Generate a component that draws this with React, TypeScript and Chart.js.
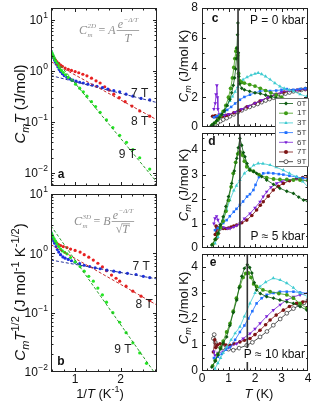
import React, { useEffect, useRef } from 'react';
import { Chart, registerables } from 'chart.js';
import { drawPoint } from 'chart.js/helpers';

Chart.register(...registerables);

type Pt = [number, number];

const W = 316;
const H = 404;
const SANS = "'Liberation Sans', Arial, Helvetica, sans-serif";
const SERIF = "'Liberation Serif', 'Times New Roman', serif";

// ---------- Panel a : C_m T (J/mol) vs 1/T ----------
const A_7T: Pt[] = [
  [0.47, 2.45], [0.49, 2.2], [0.51, 2.0], [0.53, 1.8], [0.55, 1.62], [0.57, 1.48], [0.59, 1.35],
  [0.62, 1.2], [0.65, 1.07], [0.68, 0.97], [0.72, 0.88], [0.76, 0.81], [0.82, 0.75], [0.88, 0.7],
  [0.95, 0.66], [1.02, 0.63], [1.1, 0.6], [1.18, 0.58], [1.28, 0.55], [1.38, 0.53], [1.48, 0.5],
  [1.6, 0.47], [1.72, 0.44], [1.85, 0.41], [1.98, 0.39], [2.12, 0.35], [2.27, 0.32], [2.45, 0.29], [2.64, 0.27],
];
const A_8T: Pt[] = [
  [0.47, 2.13], [0.49, 2.0], [0.51, 1.9], [0.54, 1.75], [0.57, 1.62], [0.6, 1.5], [0.64, 1.4], [0.68, 1.3],
  [0.72, 1.23], [0.78, 1.14], [0.85, 1.07], [0.92, 1.02], [1.0, 0.97], [1.08, 0.92], [1.17, 0.86], [1.26, 0.8],
  [1.36, 0.72], [1.46, 0.64], [1.55, 0.58], [1.65, 0.49], [1.75, 0.42], [1.85, 0.35], [1.97, 0.3], [2.1, 0.25],
  [2.25, 0.205], [2.42, 0.165], [2.64, 0.13],
];
const A_9T: Pt[] = [
  [0.47, 2.45], [0.49, 2.25], [0.51, 2.05], [0.53, 1.88], [0.55, 1.72], [0.57, 1.58], [0.6, 1.42], [0.63, 1.27],
  [0.66, 1.14], [0.7, 1.02], [0.74, 0.93], [0.79, 0.84], [0.85, 0.75], [0.93, 0.65], [1.01, 0.55], [1.1, 0.46],
  [1.18, 0.39], [1.26, 0.32], [1.36, 0.25], [1.45, 0.2], [1.55, 0.155], [1.69, 0.11], [1.83, 0.078], [1.98, 0.055],
  [2.13, 0.04], [2.27, 0.029], [2.42, 0.02], [2.64, 0.012],
];
const A_FIT_7T: Pt[] = [[0.47, 0.81], [2.8, 0.24]];
const A_FIT_8T: Pt[] = [[0.47, 1.51], [2.8, 0.11]];
const A_FIT_9T: Pt[] = [[0.47, 2.13], [2.8, 0.0066]];
const A_TAGS = [
  { t: '7 T', x: 2.42, y: 0.36 },
  { t: '8 T', x: 2.42, y: 0.1 },
  { t: '9 T', x: 2.15, y: 0.023 },
];

// ---------- Panel b : C_m T^1/2 vs 1/T ----------
const B_7T: Pt[] = [
  [0.47, 2.23], [0.49, 2.0], [0.51, 1.82], [0.53, 1.62], [0.55, 1.48], [0.58, 1.3], [0.61, 1.16], [0.64, 1.05],
  [0.68, 0.95], [0.73, 0.87], [0.78, 0.83], [0.85, 0.79], [0.92, 0.75], [1.0, 0.71], [1.1, 0.67], [1.2, 0.63],
  [1.32, 0.6], [1.44, 0.57], [1.55, 0.55], [1.7, 0.52], [1.85, 0.5], [1.98, 0.48], [2.15, 0.46], [2.34, 0.44],
  [2.5, 0.41], [2.64, 0.39],
];
const B_8T: Pt[] = [
  [0.47, 1.95], [0.49, 1.85], [0.52, 1.72], [0.55, 1.6], [0.59, 1.5], [0.63, 1.42], [0.68, 1.35], [0.74, 1.3],
  [0.82, 1.25], [0.9, 1.18], [1.0, 1.12], [1.11, 1.05], [1.2, 0.95], [1.3, 0.86], [1.4, 0.77], [1.5, 0.68],
  [1.6, 0.59], [1.69, 0.51], [1.8, 0.43], [1.9, 0.38], [1.98, 0.34], [2.12, 0.28], [2.27, 0.23], [2.45, 0.19],
  [2.64, 0.16],
];
const B_9T: Pt[] = [
  [0.47, 2.23], [0.49, 2.08], [0.51, 1.92], [0.54, 1.75], [0.57, 1.6], [0.6, 1.45], [0.64, 1.3], [0.68, 1.18],
  [0.72, 1.1], [0.77, 1.04], [0.82, 0.98], [0.9, 0.85], [1.0, 0.72], [1.11, 0.6], [1.2, 0.5], [1.3, 0.41],
  [1.4, 0.34], [1.5, 0.26], [1.6, 0.2], [1.69, 0.15], [1.83, 0.1], [1.98, 0.069], [2.12, 0.046], [2.27, 0.031],
  [2.42, 0.021], [2.57, 0.014],
];
const B_FIT_7T: Pt[] = [[0.47, 0.77], [2.8, 0.37]];
const B_FIT_8T: Pt[] = [[0.47, 1.4], [2.8, 0.134]];
const B_FIT_9T: Pt[] = [[0.47, 2.9], [2.8, 0.0085]];
const B_TAGS = [
  { t: '7 T', x: 2.45, y: 0.59 },
  { t: '8 T', x: 2.52, y: 0.135 },
  { t: '9 T', x: 2.05, y: 0.0235 },
];

// ---------- Panel c : P = 0 kbar ----------
const C_0T: Pt[] = [
  [0.35, 0.1], [0.45, 0.25], [0.55, 0.42], [0.65, 0.62], [0.75, 0.85], [0.85, 1.1], [0.95, 1.45], [1.05, 1.85],
  [1.12, 2.3], [1.18, 2.8], [1.23, 3.3], [1.27, 3.9], [1.3, 4.6], [1.32, 5.3], [1.34, 6.2], [1.355, 7.0],
  [1.37, 5.0], [1.39, 3.4], [1.42, 2.9], [1.5, 2.6], [1.6, 2.5], [1.8, 2.4], [2.0, 2.3], [2.2, 2.25], [2.4, 2.15],
  [2.6, 2.05], [2.8, 1.95], [3.0, 1.85], [3.2, 1.75], [3.4, 1.65], [3.6, 1.55], [3.8, 1.45], [4.0, 1.4],
];
const C_1T: Pt[] = [
  [0.4, 0.15], [0.5, 0.3], [0.6, 0.5], [0.7, 0.75], [0.8, 1.05], [0.9, 1.45], [1.0, 2.0], [1.08, 2.6],
  [1.15, 3.3], [1.2, 4.0], [1.24, 4.6], [1.28, 5.1], [1.31, 5.3], [1.34, 4.8], [1.38, 3.6], [1.43, 3.1],
  [1.5, 3.0], [1.6, 2.95], [1.8, 2.85], [2.0, 2.75], [2.2, 2.6], [2.4, 2.45], [2.6, 2.3], [2.8, 2.15],
  [3.0, 2.0], [3.3, 1.8], [3.6, 1.6], [4.0, 1.4],
];
const C_3T: Pt[] = [
  [0.45, 0.25], [0.55, 0.42], [0.65, 0.62], [0.75, 0.85], [0.85, 1.12], [0.95, 1.42], [1.05, 1.75], [1.15, 2.05],
  [1.25, 2.38], [1.35, 2.7], [1.45, 2.98], [1.55, 3.18], [1.7, 3.35], [1.85, 3.48], [2.0, 3.58], [2.12, 3.64],
  [2.25, 3.55], [2.4, 3.4], [2.57, 3.19], [2.75, 2.95], [2.94, 2.73], [3.1, 2.6], [3.3, 2.48], [3.45, 2.4],
  [3.7, 2.2], [3.95, 2.05],
];
const C_5T: Pt[] = [
  [0.45, 0.65], [0.55, 0.72], [0.65, 0.8], [0.75, 0.9], [0.85, 1.02], [0.95, 1.15], [1.1, 1.35], [1.25, 1.58],
  [1.43, 1.83], [1.6, 2.02], [1.81, 2.17], [2.0, 2.3], [2.19, 2.4], [2.4, 2.45], [2.57, 2.42], [2.8, 2.45],
  [3.0, 2.5], [3.2, 2.55], [3.45, 2.5], [3.7, 2.55], [3.9, 2.6],
];
const C_6T: Pt[] = [
  [0.45, 1.2], [0.5, 1.6], [0.53, 2.2], [0.56, 2.8], [0.58, 2.0], [0.6, 1.2], [0.65, 0.85], [0.75, 0.8],
  [0.85, 0.78], [1.0, 0.85], [1.25, 1.0], [1.5, 1.2], [1.75, 1.4], [2.0, 1.6], [2.25, 1.8], [2.5, 2.0],
  [2.75, 2.2], [3.0, 2.35], [3.3, 2.45], [3.6, 2.5], [3.9, 2.55],
];
const C_7T: Pt[] = [
  [0.4, 0.72], [0.45, 0.7], [0.5, 0.75], [0.55, 0.68], [0.6, 0.72], [0.65, 0.7], [0.7, 0.74], [0.75, 0.72],
  [0.8, 0.75], [0.9, 0.78], [1.0, 0.82], [1.2, 0.95], [1.43, 1.12], [1.7, 1.35], [2.0, 1.6], [2.19, 1.75],
  [2.5, 2.0], [2.8, 2.2], [3.1, 2.35], [3.4, 2.45], [3.7, 2.5], [3.9, 2.55],
];
const C_9T: Pt[] = [
  [0.5, 0.2], [0.6, 0.3], [0.7, 0.4], [0.8, 0.5], [0.93, 0.6], [1.05, 0.72], [1.2, 0.85], [1.35, 1.0],
  [1.5, 1.12], [1.65, 1.25], [1.8, 1.35], [1.95, 1.45], [2.1, 1.55], [2.25, 1.67], [2.4, 1.78], [2.55, 1.88],
  [2.7, 1.97], [2.85, 2.05], [3.0, 2.15], [3.15, 2.25], [3.3, 2.32], [3.45, 2.4], [3.6, 2.45], [3.75, 2.5], [3.9, 2.55],
];
const C_TC = 1.36;

// ---------- Panel d : P ≈ 5 kbar ----------
const D_0T: Pt[] = [
  [0.37, 0.12], [0.5, 0.35], [0.6, 0.6], [0.7, 0.95], [0.8, 1.28], [0.9, 1.7], [1.0, 2.1], [1.12, 2.64],
  [1.22, 3.15], [1.31, 3.66], [1.37, 4.1], [1.43, 4.48], [1.5, 4.2], [1.56, 3.9], [1.62, 3.73], [1.7, 3.45],
  [1.81, 3.18], [1.95, 3.12], [2.06, 3.05], [2.25, 2.92], [2.44, 2.78], [2.7, 2.6], [2.94, 2.44], [3.2, 2.32],
  [3.45, 2.23], [3.65, 2.08], [3.83, 1.96], [4.0, 1.9],
];
const D_1T: Pt[] = [
  [0.4, 0.15], [0.5, 0.35], [0.6, 0.58], [0.7, 0.85], [0.8, 1.1], [0.9, 1.5], [1.0, 1.95], [1.1, 2.5],
  [1.18, 3.05], [1.27, 3.5], [1.35, 3.85], [1.43, 3.93], [1.52, 3.8], [1.6, 3.55], [1.69, 3.32], [1.8, 3.2],
  [1.94, 3.14], [2.15, 3.0], [2.44, 2.88], [2.7, 2.82], [2.94, 2.8], [3.2, 2.8], [3.45, 2.78], [3.7, 2.78], [4.0, 2.76],
];
const D_3T: Pt[] = [
  [0.49, 0.19], [0.6, 0.45], [0.7, 0.8], [0.8, 1.15], [0.93, 1.55], [1.05, 1.95], [1.2, 2.35], [1.3, 2.55],
  [1.43, 2.78], [1.6, 3.05], [1.81, 3.25], [1.95, 3.38], [2.12, 3.46], [2.3, 3.45], [2.57, 3.39], [2.8, 3.3],
  [3.07, 3.18], [3.3, 3.05], [3.57, 2.91], [3.8, 2.72], [4.0, 2.5],
];
const D_5T: Pt[] = [
  [0.49, 0.73], [0.6, 0.82], [0.7, 0.92], [0.8, 1.02], [0.93, 1.14], [1.05, 1.3], [1.2, 1.48], [1.3, 1.6],
  [1.43, 1.76], [1.55, 1.9], [1.7, 2.1], [1.81, 2.2], [1.94, 2.37], [2.02, 2.58], [2.15, 2.9], [2.31, 3.05],
  [2.5, 3.07], [2.69, 3.05], [2.9, 3.02], [3.07, 3.0], [3.3, 2.95], [3.57, 2.9], [3.8, 2.86], [4.0, 2.83],
];
const D_6T: Pt[] = [
  [0.45, 1.0], [0.49, 1.21], [0.55, 1.3], [0.6, 1.15], [0.68, 0.94], [0.8, 0.85], [0.95, 0.8], [1.06, 0.8],
  [1.2, 0.86], [1.31, 0.92], [1.43, 1.0], [1.6, 1.2], [1.81, 1.41], [2.0, 1.64], [2.19, 1.89], [2.31, 2.1],
  [2.44, 2.3], [2.6, 2.48], [2.82, 2.64], [3.0, 2.72], [3.2, 2.78], [3.45, 2.8], [3.7, 2.8], [4.0, 2.73],
];
const D_7T: Pt[] = [
  [0.5, 0.55], [0.53, 0.9], [0.55, 0.4], [0.58, 0.85], [0.62, 0.6], [0.68, 0.78], [0.75, 0.82], [0.8, 0.8],
  [0.9, 0.8], [1.0, 0.82], [1.1, 0.86], [1.2, 0.9], [1.31, 0.94], [1.5, 1.03], [1.69, 1.14], [1.88, 1.33],
  [2.06, 1.55], [2.2, 1.75], [2.31, 1.89], [2.5, 2.12], [2.69, 2.37], [2.88, 2.52], [3.07, 2.64], [3.3, 2.75],
  [3.57, 2.84], [3.8, 2.88], [4.0, 2.9],
];
const D_TC = 1.43;

// ---------- Panel e : P ≈ 10 kbar ----------
const E_0T: Pt[] = [
  [0.37, 0.15], [0.5, 0.38], [0.6, 0.62], [0.7, 0.85], [0.8, 1.08], [0.93, 1.31], [1.05, 1.75], [1.18, 2.25],
  [1.31, 2.73], [1.4, 3.2], [1.5, 3.64], [1.6, 3.95], [1.71, 4.09], [1.8, 3.98], [1.88, 3.77], [1.97, 3.4],
  [2.06, 3.12], [2.2, 2.98], [2.44, 2.86], [2.7, 2.8], [2.94, 2.73], [3.2, 2.66], [3.45, 2.6], [3.7, 2.48], [3.96, 2.34],
];
const E_1T: Pt[] = [
  [0.4, 0.2], [0.5, 0.4], [0.6, 0.65], [0.7, 0.9], [0.8, 1.15], [0.93, 1.5], [1.06, 1.83], [1.18, 2.3],
  [1.3, 2.8], [1.43, 3.25], [1.55, 3.6], [1.65, 3.75], [1.75, 3.77], [1.85, 3.6], [1.95, 3.35], [2.06, 3.25],
  [2.3, 3.12], [2.57, 3.05], [2.9, 2.98], [3.2, 2.93], [3.45, 2.8], [3.7, 2.6], [3.96, 2.4],
];
const E_3T: Pt[] = [
  [0.49, 0.09], [0.6, 0.3], [0.7, 0.5], [0.8, 0.7], [0.93, 0.92], [1.1, 1.2], [1.25, 1.45], [1.43, 1.7],
  [1.6, 2.1], [1.81, 2.6], [2.0, 3.0], [2.19, 3.25], [2.4, 3.42], [2.69, 3.57], [2.95, 3.5], [3.2, 3.38],
  [3.45, 3.2], [3.7, 2.99], [4.0, 2.86],
];
const E_5T: Pt[] = [
  [0.45, 0.5], [0.49, 0.47], [0.6, 0.55], [0.75, 0.66], [0.9, 0.82], [1.06, 0.92], [1.25, 1.2], [1.43, 1.5],
  [1.6, 1.75], [1.75, 2.02], [1.9, 2.3], [2.06, 2.6], [2.25, 2.8], [2.44, 2.93], [2.7, 3.0], [2.94, 3.05],
  [3.2, 3.05], [3.45, 3.05], [3.7, 3.02], [4.0, 2.99],
];
const E_6T: Pt[] = [
  [0.45, 0.75], [0.49, 0.6], [0.6, 0.7], [0.8, 0.75], [1.0, 0.9], [1.31, 1.05], [1.55, 1.25], [1.81, 1.44],
  [2.0, 1.62], [2.19, 1.83], [2.44, 2.1], [2.69, 2.34], [2.95, 2.55], [3.2, 2.73], [3.45, 2.85], [3.7, 2.93], [4.0, 2.99],
];
const E_7T: Pt[] = [
  [0.43, 0.73], [0.48, 1.2], [0.52, 0.9], [0.58, 1.0], [0.68, 1.05], [0.8, 1.05], [0.9, 1.0], [1.06, 0.99],
  [1.2, 1.05], [1.43, 1.12], [1.6, 1.18], [1.81, 1.25], [2.0, 1.4], [2.19, 1.57], [2.4, 1.78], [2.57, 1.96],
  [2.8, 2.15], [3.07, 2.34], [3.3, 2.48], [3.57, 2.6], [3.8, 2.65], [4.0, 2.67],
];
const E_9T: Pt[] = [
  [0.43, 1.25], [0.46, 1.4], [0.5, 1.1], [0.55, 1.0], [0.65, 0.95], [0.8, 0.9], [1.0, 0.84], [1.18, 0.8],
  [1.4, 0.88], [1.69, 0.99], [1.9, 1.1], [2.19, 1.31], [2.45, 1.52], [2.69, 1.76], [2.95, 2.0], [3.2, 2.22],
  [3.45, 2.4], [3.7, 2.54], [3.85, 2.62], [4.0, 2.72],
];
const E_TC = 1.71;

const FIELDS = ['0T', '1T', '3T', '5T', '6T', '7T', '9T'];

// ---------- styles ----------
const FIELD_STYLE: Record<string, { color: string; fill: string; style: string; rot: number; r: number; bw: number }> = {
  '0T': { color: '#0c5a10', fill: '#0c5a10', style: 'rectRot', rot: 0, r: 1.9, bw: 0 },
  '1T': { color: '#3f9c16', fill: '#3f9c16', style: 'circle', rot: 0, r: 1.9, bw: 0 },
  '3T': { color: '#3ecbd0', fill: '#3ecbd0', style: 'triangle', rot: 0, r: 2.1, bw: 0 },
  '5T': { color: '#1e6fff', fill: '#1e6fff', style: 'rect', rot: 0, r: 1.8, bw: 0 },
  '6T': { color: '#7a20d6', fill: '#7a20d6', style: 'triangle', rot: 180, r: 2.1, bw: 0 },
  '7T': { color: '#7c1414', fill: '#7c1414', style: 'circle', rot: 0, r: 1.8, bw: 0 },
  '9T': { color: '#222222', fill: '#ffffff', style: 'circle', rot: 0, r: 1.9, bw: 0.7 },
};

type Area = { l: number; t: number; r: number; b: number };
const AREA_A: Area = { l: 51, t: 8, r: 157, b: 186 };
const AREA_B: Area = { l: 51, t: 194, r: 157, b: 372 };
const AREA_C: Area = { l: 202, t: 8, r: 308, b: 127 };
const AREA_D: Area = { l: 202, t: 133, r: 308, b: 248 };
const AREA_E: Area = { l: 202, t: 254, r: 308, b: 371 };

const near = (v: number, k: number) => Math.abs(v / k - Math.round(v / k)) < 1e-6;
const steps = (from: number, to: number, step: number) => {
  const out: number[] = [];
  for (let i = 0; from + i * step <= to + 1e-9; i++) out.push(Number((from + i * step).toFixed(6)));
  return out;
};

type Run = { t: string; it?: boolean; sup?: boolean; sub?: boolean };

function drawRuns(ctx: CanvasRenderingContext2D, runs: Run[], x: number, y: number, size: number, rotate = false) {
  ctx.save();
  ctx.fillStyle = '#111';
  ctx.textBaseline = 'alphabetic';
  ctx.textAlign = 'left';
  const fontOf = (r: Run) => `${r.it ? 'italic ' : ''}${r.sup || r.sub ? Math.round(size * 0.7) : size}px ${SANS}`;
  let total = 0;
  const widths = runs.map((r) => {
    ctx.font = fontOf(r);
    const w = ctx.measureText(r.t).width;
    total += w;
    return w;
  });
  ctx.translate(x, y);
  if (rotate) ctx.rotate(-Math.PI / 2);
  let cx = -total / 2;
  const base = size * 0.36;
  runs.forEach((r, i) => {
    ctx.font = fontOf(r);
    const dy = r.sup ? -size * 0.42 : r.sub ? size * 0.25 : 0;
    ctx.fillText(r.t, cx, base + dy);
    cx += widths[i];
  });
  ctx.restore();
}

function drawFormula(ctx: CanvasRenderingContext2D, x0: number, cy: number, coef: string, dim: string, sqrt: boolean) {
  const col = '#8f8f8f';
  ctx.save();
  ctx.fillStyle = col;
  ctx.strokeStyle = col;
  ctx.lineWidth = 0.8;
  ctx.textBaseline = 'alphabetic';
  ctx.textAlign = 'left';
  const big = `italic 12px ${SERIF}`;
  const rom = `12px ${SERIF}`;
  const small = `italic 7px ${SERIF}`;
  const base = cy + 4;
  let x = x0;
  ctx.font = big;
  ctx.fillText('C', x, base);
  x += ctx.measureText('C').width;
  ctx.font = small;
  const wd = ctx.measureText(dim).width;
  const wm = ctx.measureText('m').width;
  ctx.fillText(dim, x + 0.5, base - 6);
  ctx.fillText('m', x + 0.5, base + 2.5);
  x += Math.max(wd, wm) + 3;
  ctx.font = rom;
  ctx.fillText('=', x, base);
  x += ctx.measureText('=').width + 3;
  ctx.font = big;
  ctx.fillText(coef, x, base);
  x += ctx.measureText(coef).width + 1;
  ctx.font = big;
  const we = ctx.measureText('e').width;
  ctx.font = small;
  const wexp = ctx.measureText('−Δ/T').width;
  const numW = we + wexp + 0.5;
  ctx.font = big;
  const wT = ctx.measureText('T').width;
  ctx.font = rom;
  const ws = ctx.measureText('√').width;
  const denW = sqrt ? wT + ws + 1 : wT;
  const fw = Math.max(numW, denW) + 2;
  let nx = x + (fw - numW) / 2;
  ctx.font = big;
  ctx.fillText('e', nx, cy - 2.5);
  nx += we + 0.5;
  ctx.font = small;
  ctx.fillText('−Δ/T', nx, cy - 8);
  ctx.beginPath();
  ctx.moveTo(x, cy + 0.5);
  ctx.lineTo(x + fw, cy + 0.5);
  ctx.stroke();
  let dx = x + (fw - denW) / 2;
  if (sqrt) {
    ctx.font = rom;
    ctx.fillText('√', dx, cy + 11.5);
    ctx.beginPath();
    ctx.moveTo(dx + ws - 0.5, cy + 2.8);
    ctx.lineTo(dx + ws + wT + 1, cy + 2.8);
    ctx.stroke();
    dx += ws;
  }
  ctx.font = big;
  ctx.fillText('T', dx, cy + 11.5);
  ctx.restore();
}

function logTickValues(min: number, max: number) {
  const out: { v: number; major: boolean }[] = [];
  for (let e = Math.floor(Math.log10(min)); e <= Math.ceil(Math.log10(max)); e++) {
    for (let k = 1; k <= 9; k++) {
      const v = k * Math.pow(10, e);
      if (v >= min && v <= max) out.push({ v, major: k === 1 });
    }
  }
  return out;
}

type AxisSpec = { ticks: number[]; major: (v: number) => boolean; label: (v: number) => string };

function framePlugin(xSpec: AxisSpec, ySpec: AxisSpec | null) {
  return {
    id: 'frame',
    afterDatasetsDraw(chart: any) {
      const { ctx, chartArea: a } = chart;
      const xs = chart.scales.x;
      const ys = chart.scales.y;
      const logY = ySpec === null;
      const xList = xSpec.ticks.map((v) => ({ v, major: xSpec.major(v) }));
      const yList = logY ? logTickValues(ys.min, ys.max) : ySpec!.ticks.map((v) => ({ v, major: ySpec!.major(v) }));
      ctx.save();
      ctx.strokeStyle = '#222';
      ctx.lineWidth = 1;
      ctx.beginPath();
      for (const { v, major } of xList) {
        const px = Math.round(xs.getPixelForValue(v)) + 0.5;
        if (px < a.left + 1 || px > a.right - 1) continue;
        const len = major ? 4 : 2.5;
        ctx.moveTo(px, a.bottom);
        ctx.lineTo(px, a.bottom - len);
        ctx.moveTo(px, a.top);
        ctx.lineTo(px, a.top + len);
      }
      for (const { v, major } of yList) {
        const py = Math.round(ys.getPixelForValue(v)) + 0.5;
        if (py < a.top + 1 || py > a.bottom - 1) continue;
        const len = major ? 4 : 2.5;
        ctx.moveTo(a.left, py);
        ctx.lineTo(a.left + len, py);
        ctx.moveTo(a.right, py);
        ctx.lineTo(a.right - len, py);
      }
      ctx.stroke();
      ctx.strokeRect(a.left + 0.5, a.top + 0.5, a.right - a.left - 1, a.bottom - a.top - 1);

      // tick labels
      ctx.fillStyle = '#111';
      ctx.font = `12px ${SANS}`;
      ctx.textAlign = 'center';
      ctx.textBaseline = 'top';
      for (const { v } of xList) {
        const s = xSpec.label(v);
        if (s) ctx.fillText(s, xs.getPixelForValue(v), a.bottom + 2);
      }
      ctx.textBaseline = 'middle';
      if (logY) {
        for (const { v, major } of yList) {
          if (!major) continue;
          const py = ys.getPixelForValue(v);
          const e = Math.round(Math.log10(v));
          const sup = String(e).replace('-', '−');
          ctx.font = `8.5px ${SANS}`;
          const w2 = ctx.measureText(sup).width;
          ctx.textAlign = 'right';
          ctx.fillText(sup, a.left - 3, py - 4.5);
          ctx.font = `12px ${SANS}`;
          ctx.fillText('10', a.left - 3 - w2 - 0.5, py + 1);
        }
      } else {
        ctx.textAlign = 'right';
        for (const { v } of yList) {
          const s = ySpec!.label(v);
          if (s) ctx.fillText(s, a.left - 4, ys.getPixelForValue(v));
        }
      }
      ctx.restore();
    },
  };
}

function decorPlugin(fn: (ctx: CanvasRenderingContext2D, chart: any) => void) {
  return {
    id: 'decor',
    afterDraw(chart: any) {
      fn(chart.ctx, chart);
    },
  };
}

const linScale = (min: number, max: number) => ({ type: 'linear', display: false, min, max });
const logScale = (min: number, max: number) => ({ type: 'logarithmic', display: false, min, max });

function baseConfig(area: Area, xs: any, ys: any, datasets: any[], plugins: any[]) {
  return {
    type: 'scatter',
    data: { datasets },
    options: {
      animation: false,
      responsive: false,
      devicePixelRatio: 1,
      events: [],
      layout: { padding: { left: area.l, top: area.t, right: W - area.r, bottom: H - area.b } },
      plugins: { legend: { display: false }, tooltip: { enabled: false } },
      scales: { x: xs, y: ys },
    },
    plugins,
  } as any;
}

const toXY = (pts: Pt[]) => pts.map(([x, y]) => ({ x, y }));

function dotSet(pts: Pt[], color: string, order: number) {
  return {
    data: toXY(pts),
    showLine: false,
    pointRadius: 1.6,
    pointBorderWidth: 0,
    pointBackgroundColor: color,
    order,
  };
}
function fitSet(pts: Pt[], color: string, order: number) {
  return {
    data: toXY(pts),
    showLine: true,
    borderColor: color,
    borderWidth: 1,
    borderDash: [3, 2],
    pointRadius: 0,
    clip: 0,
    order,
  };
}
function fieldSet(field: string, pts: Pt[], order: number) {
  const st = FIELD_STYLE[field];
  return {
    data: toXY(pts),
    showLine: true,
    borderColor: st.color,
    borderWidth: 0.8,
    pointStyle: st.style,
    pointRotation: st.rot,
    pointRadius: st.r,
    pointBackgroundColor: st.fill,
    pointBorderColor: st.color,
    pointBorderWidth: st.bw,
    order,
  };
}
function tcSet(tc: number, ymax: number) {
  return {
    data: [{ x: tc, y: 0 }, { x: tc, y: ymax }],
    showLine: true,
    borderColor: '#333',
    borderWidth: 1.6,
    pointRadius: 0,
    clip: 0,
    order: -1,
  };
}

function drawTags(ctx: CanvasRenderingContext2D, chart: any, tags: { t: string; x: number; y: number }[]) {
  ctx.save();
  ctx.fillStyle = '#222';
  ctx.font = `12px ${SANS}`;
  ctx.textAlign = 'center';
  ctx.textBaseline = 'middle';
  for (const g of tags) {
    ctx.fillText(g.t, chart.scales.x.getPixelForValue(g.x), chart.scales.y.getPixelForValue(g.y));
  }
  ctx.restore();
}

function drawLetter(ctx: CanvasRenderingContext2D, s: string, x: number, y: number) {
  ctx.save();
  ctx.fillStyle = '#111';
  ctx.font = `bold 12px ${SANS}`;
  ctx.textAlign = 'center';
  ctx.textBaseline = 'middle';
  ctx.fillText(s, x, y);
  ctx.restore();
}

function drawPressure(ctx: CanvasRenderingContext2D, s: string, right: number, y: number) {
  ctx.save();
  ctx.font = `12px ${SANS}`;
  const w = ctx.measureText(s).width;
  ctx.fillStyle = '#fff';
  ctx.fillRect(right - w - 3, y - 7, w + 4, 14);
  ctx.fillStyle = '#111';
  ctx.textAlign = 'right';
  ctx.textBaseline = 'middle';
  ctx.fillText(s, right, y);
  ctx.restore();
}

function drawLegend(ctx: CanvasRenderingContext2D, a: any) {
  const x0 = a.right - 33;
  const y0 = a.bottom - 29;
  const w = 34;
  const h = 69;
  ctx.save();
  ctx.fillStyle = '#fff';
  ctx.fillRect(x0, y0, w, h);
  ctx.strokeStyle = '#555';
  ctx.lineWidth = 0.8;
  ctx.strokeRect(x0 + 0.5, y0 + 0.5, w - 1, h - 1);
  FIELDS.forEach((f, i) => {
    const y = y0 + 5.5 + i * 9.7;
    const st = FIELD_STYLE[f];
    ctx.strokeStyle = st.color;
    ctx.lineWidth = 0.8;
    ctx.beginPath();
    ctx.moveTo(x0 + 4, y);
    ctx.lineTo(x0 + 18, y);
    ctx.stroke();
    ctx.fillStyle = st.fill;
    ctx.strokeStyle = st.color;
    ctx.lineWidth = st.bw || 0.001;
    drawPoint(ctx, { pointStyle: st.style as any, rotation: st.rot, radius: 2, borderWidth: st.bw }, x0 + 11, y);
    ctx.fillStyle = '#333';
    ctx.font = `8px ${SANS}`;
    ctx.textAlign = 'left';
    ctx.textBaseline = 'middle';
    ctx.fillText(f, x0 + 22, y);
  });
  ctx.restore();
}

const yTitleRight: Run[] = [{ t: 'C', it: true }, { t: 'm', it: true, sub: true }, { t: ' (J/mol K)' }];

const INV_T_TICKS = steps(0.5, 2.75, 0.25);
const T_TICKS = steps(0, 4, 0.2);
const intLabel = (v: number) => (near(v, 1) ? String(Math.round(v)) : '');
const noLabel = () => '';

function cfgA() {
  const ds = [
    fitSet(A_FIT_9T, '#2a9b2a', 0),
    fitSet(A_FIT_8T, '#c62828', 1),
    fitSet(A_FIT_7T, '#28359a', 2),
    dotSet(A_9T, '#22e622', 3),
    dotSet(A_7T, '#1c2fe0', 4),
    dotSet(A_8T, '#e82020', 5),
  ];
  return baseConfig(AREA_A, linScale(0.47, 2.8), logScale(0.0056, 17), ds, [
    framePlugin({ ticks: INV_T_TICKS, major: (v) => near(v, 1), label: noLabel }, null),
    decorPlugin((ctx, chart) => {
      const a = chart.chartArea;
      drawFormula(ctx, a.left + 28, a.top + 22, 'A', '2D', false);
      drawTags(ctx, chart, A_TAGS);
      drawLetter(ctx, 'a', a.left + 10, a.bottom - 11);
      drawRuns(ctx, [{ t: 'C', it: true }, { t: 'm', it: true, sub: true }, { t: 'T', it: true }, { t: ' (J/mol)' }], 20, 104, 15, true);
    }),
  ]);
}

function cfgB() {
  const ds = [
    fitSet(B_FIT_9T, '#2a9b2a', 0),
    fitSet(B_FIT_8T, '#c62828', 1),
    fitSet(B_FIT_7T, '#28359a', 2),
    dotSet(B_9T, '#22e622', 3),
    dotSet(B_7T, '#1c2fe0', 4),
    dotSet(B_8T, '#e82020', 5),
  ];
  return baseConfig(AREA_B, linScale(0.47, 2.8), logScale(0.01, 10), ds, [
    framePlugin({ ticks: INV_T_TICKS, major: (v) => near(v, 1), label: intLabel }, null),
    decorPlugin((ctx, chart) => {
      const a = chart.chartArea;
      drawFormula(ctx, a.left + 23, a.top + 27, 'B', '3D', true);
      drawTags(ctx, chart, B_TAGS);
      drawLetter(ctx, 'b', a.left + 10, a.bottom - 10);
      drawRuns(
        ctx,
        [
          { t: 'C', it: true }, { t: 'm', it: true, sub: true }, { t: 'T', it: true }, { t: '1/2', sup: true },
          { t: ' (J mol' }, { t: '-1', sup: true }, { t: ' K' }, { t: '-1/2', sup: true }, { t: ')' },
        ],
        20, 292, 15, true,
      );
      drawRuns(ctx, [{ t: '1/' }, { t: 'T', it: true }, { t: ' (K' }, { t: '-1', sup: true }, { t: ')' }], 100, 393, 13);
    }),
  ]);
}

function rightSets(series: Pt[][], tc: number, ymax: number) {
  const ds: any[] = series.map((pts, i) => fieldSet(FIELDS[i], pts, i));
  ds.push(tcSet(tc, ymax));
  return ds;
}

function cfgC() {
  return baseConfig(AREA_C, linScale(0, 4), linScale(0, 8), rightSets([C_0T, C_1T, C_3T, C_5T, C_6T, C_7T, C_9T], C_TC, 8), [
    framePlugin(
      { ticks: T_TICKS, major: (v) => near(v, 1), label: noLabel },
      { ticks: steps(0, 8, 1), major: (v) => near(v, 2), label: (v) => (near(v, 2) ? String(Math.round(v)) : '') },
    ),
    decorPlugin((ctx, chart) => {
      const a = chart.chartArea;
      drawLetter(ctx, 'c', a.left + 13, a.top + 11);
      drawPressure(ctx, 'P = 0 kbar', a.right - 3, a.top + 13);
      drawRuns(ctx, yTitleRight, 183, 66, 13, true);
      drawLegend(ctx, a);
    }),
  ]);
}

function cfgD() {
  return baseConfig(AREA_D, linScale(0, 4), linScale(0, 4.7), rightSets([D_0T, D_1T, D_3T, D_5T, D_6T, D_7T], D_TC, 4.7), [
    framePlugin(
      { ticks: T_TICKS, major: (v) => near(v, 1), label: noLabel },
      { ticks: steps(0, 4.5, 0.5), major: (v) => near(v, 1), label: intLabel },
    ),
    decorPlugin((ctx, chart) => {
      const a = chart.chartArea;
      drawLetter(ctx, 'd', a.left + 10, a.top + 9);
      drawPressure(ctx, 'P ≈ 5 kbar', a.right - 3, a.bottom - 11);
      drawRuns(ctx, yTitleRight, 183, 185, 13, true);
    }),
  ]);
}

function cfgE() {
  return baseConfig(AREA_E, linScale(0, 4), linScale(0, 4.5), rightSets([E_0T, E_1T, E_3T, E_5T, E_6T, E_7T, E_9T], E_TC, 4.5), [
    framePlugin(
      { ticks: T_TICKS, major: (v) => near(v, 1), label: intLabel },
      { ticks: steps(0, 4.5, 0.5), major: (v) => near(v, 1), label: intLabel },
    ),
    decorPlugin((ctx, chart) => {
      const a = chart.chartArea;
      drawLetter(ctx, 'e', a.left + 11, a.top + 9);
      drawPressure(ctx, 'P ≈ 10 kbar', a.right - 3, a.bottom - 16);
      drawRuns(ctx, yTitleRight, 183, 308, 13, true);
      drawRuns(ctx, [{ t: 'T', it: true }, { t: ' (K)' }], 259, 393, 13);
    }),
  ]);
}

export default function App() {
  const r0 = useRef<HTMLCanvasElement>(null);
  const r1 = useRef<HTMLCanvasElement>(null);
  const r2 = useRef<HTMLCanvasElement>(null);
  const r3 = useRef<HTMLCanvasElement>(null);
  const r4 = useRef<HTMLCanvasElement>(null);
  const refs = [r0, r1, r2, r3, r4];
  useEffect(() => {
    document.body.style.margin = '0';
    const cfgs = [cfgA(), cfgB(), cfgE(), cfgD(), cfgC()];
    const charts = cfgs.map((c, i) => new Chart(refs[i].current as HTMLCanvasElement, c));
    return () => charts.forEach((c) => c.destroy());
  }, []);
  return (
    <div style={{ position: 'absolute', left: 0, top: 0, width: W, height: H, background: '#fff', overflow: 'hidden' }}>
      {refs.map((r, i) => (
        <canvas key={i} ref={r} width={W} height={H} style={{ position: 'absolute', left: 0, top: 0 }} />
      ))}
    </div>
  );
}
